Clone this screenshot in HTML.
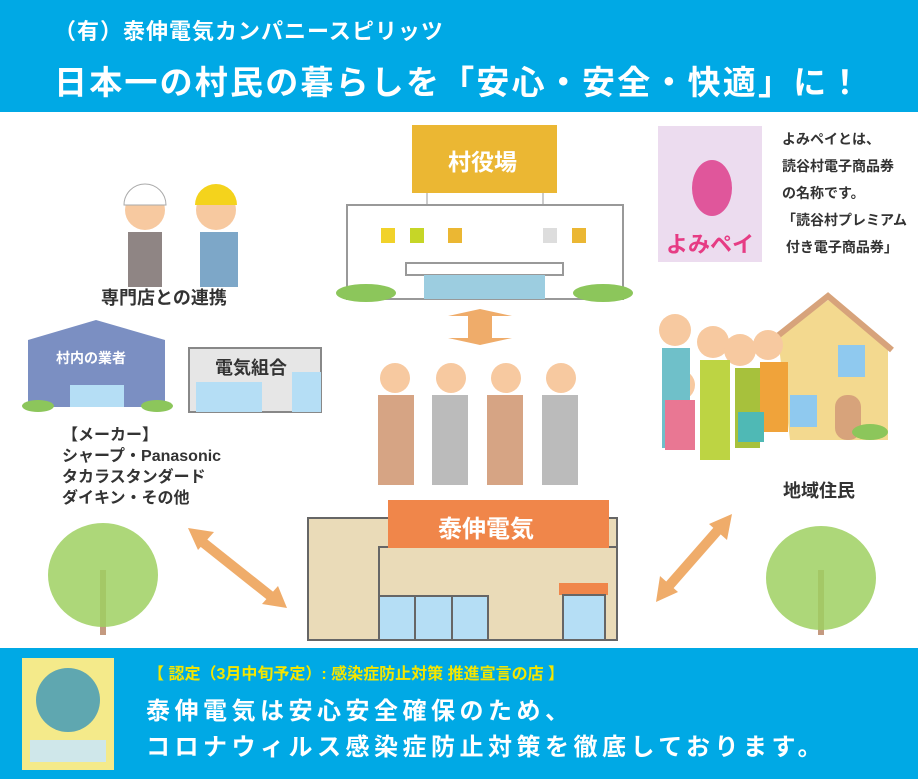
<!DOCTYPE html>
<html><head><meta charset="utf-8"><style>
*{margin:0;padding:0}
body{width:918px;height:779px;position:relative;overflow:hidden;background:#fff;font-family:"Liberation Sans","Noto Sans CJK JP",sans-serif;font-weight:bold}
.t{position:absolute;white-space:nowrap}
svg{position:absolute;left:0;top:0}
</style></head><body>
<svg width="918" height="779">
<rect x="0" y="0" width="918" height="112" fill="#00a9e5"/>
<rect x="0" y="648" width="918" height="131" fill="#00a9e5"/>
<line x1="427" y1="193" x2="427" y2="205" stroke="#999"/><line x1="543" y1="193" x2="543" y2="205" stroke="#999"/>
<rect x="347" y="205" width="276" height="94" fill="#fff" stroke="#999" stroke-width="2"/>
<rect x="412" y="125" width="145" height="68" fill="#ebb733"/>
<rect x="381" y="228" width="14" height="15" fill="#f1d22a"/><rect x="410" y="228" width="14" height="15" fill="#c6d627"/><rect x="448" y="228" width="14" height="15" fill="#ebb733"/><rect x="543" y="228" width="14" height="15" fill="#ddd"/><rect x="572" y="228" width="14" height="15" fill="#ebb733"/>
<rect x="406" y="263" width="157" height="12" fill="#fff" stroke="#999" stroke-width="2"/>
<rect x="424" y="275" width="121" height="24" fill="#9ccde0"/>
<ellipse cx="366" cy="293" rx="30" ry="9" fill="#8cc65b"/><ellipse cx="603" cy="293" rx="30" ry="9" fill="#8cc65b"/>
<path d="M480 309 L512 316 L492 316 L492 338 L512 338 L480 345 L448 338 L468 338 L468 316 L448 316Z" fill="#efac6a"/>
<rect x="658" y="126" width="104" height="136" fill="#ecdcef"/>
<ellipse cx="712" cy="188" rx="20" ry="28" fill="#e0569b"/>
<text x="666" y="252" font-size="22" fill="#e63c84" font-weight="bold" font-family="Liberation Sans,Noto Sans CJK JP,sans-serif">よみペイ</text>
<circle cx="145" cy="210" r="20" fill="#f7c9a0"/><path d="M124 205 a21 21 0 0 1 42 0z" fill="#fff" stroke="#aaa"/>
<rect x="128" y="232" width="34" height="55" fill="#8f8584"/>
<circle cx="216" cy="210" r="20" fill="#f7c9a0"/><path d="M195 205 a21 21 0 0 1 42 0z" fill="#f4d31c"/>
<rect x="200" y="232" width="38" height="55" fill="#7da7c8"/>
<path d="M28 340 L96 320 L165 340 L165 407 L28 407Z" fill="#7b8fc2"/>
<rect x="70" y="385" width="54" height="22" fill="#b5def5"/>
<ellipse cx="38" cy="406" rx="16" ry="6" fill="#8cc65b"/><ellipse cx="157" cy="406" rx="16" ry="6" fill="#8cc65b"/>
<rect x="189" y="348" width="132" height="64" fill="#e6e6e6" stroke="#888" stroke-width="2"/>
<rect x="196" y="382" width="66" height="30" fill="#b5def5"/><rect x="292" y="372" width="29" height="40" fill="#b5def5"/>
<g fill="#d6a484"><rect x="378" y="395" width="36" height="90"/><rect x="487" y="395" width="36" height="90"/></g>
<g fill="#bbb"><rect x="432" y="395" width="36" height="90"/><rect x="542" y="395" width="36" height="90"/></g>
<g fill="#f7c9a0"><circle cx="395" cy="378" r="15"/><circle cx="451" cy="378" r="15"/><circle cx="506" cy="378" r="15"/><circle cx="561" cy="378" r="15"/></g>
<path d="M778 338 L828 300 L888 345 L888 440 L790 440Z" fill="#f3d98f"/>
<path d="M770 342 L828 296 L892 350" fill="none" stroke="#d7a37b" stroke-width="6"/>
<rect x="838" y="345" width="27" height="32" fill="#8fc9ef"/><rect x="790" y="395" width="27" height="32" fill="#8fc9ef"/>
<rect x="835" y="395" width="26" height="45" rx="12" fill="#d7a37b"/>
<ellipse cx="870" cy="432" rx="18" ry="8" fill="#8cc65b"/>
<g fill="#f7c9a0"><circle cx="675" cy="330" r="16"/><circle cx="713" cy="342" r="16"/><circle cx="740" cy="350" r="16"/><circle cx="768" cy="345" r="15"/><circle cx="680" cy="385" r="15"/><circle cx="750" cy="400" r="14"/></g>
<rect x="662" y="348" width="28" height="100" fill="#6fc0c9"/><rect x="700" y="360" width="30" height="100" fill="#bdd443"/>
<rect x="735" y="368" width="25" height="80" fill="#a7c13c"/><rect x="760" y="362" width="28" height="70" fill="#f0a33a"/>
<rect x="665" y="400" width="30" height="50" fill="#e97793"/><rect x="738" y="412" width="26" height="30" fill="#4fb9b5"/>
<rect x="308" y="518" width="309" height="122" fill="#eadbb8" stroke="#666" stroke-width="2"/>
<rect x="379" y="547" width="238" height="93" fill="#eadbb8" stroke="#666" stroke-width="2"/>
<rect x="388" y="500" width="221" height="48" fill="#f0864a"/>
<rect x="379" y="596" width="109" height="44" fill="#b5def5" stroke="#666" stroke-width="2"/>
<line x1="415" y1="596" x2="415" y2="640" stroke="#666" stroke-width="2"/><line x1="452" y1="596" x2="452" y2="640" stroke="#666" stroke-width="2"/>
<rect x="559" y="583" width="49" height="12" fill="#f0864a"/>
<rect x="563" y="595" width="42" height="45" fill="#b5def5" stroke="#666" stroke-width="2"/>
<g stroke="#efac6a" stroke-width="10" fill="none"><line x1="200" y1="540" x2="273" y2="598"/><line x1="718" y1="530" x2="668" y2="587"/></g>
<path d="M188 528 L214 532 L198 550Z M287 608 L262 604 L278 586Z" fill="#efac6a"/>
<path d="M732 514 L727 540 L709 524Z M656 602 L660 576 L678 592Z" fill="#efac6a"/>
<rect x="100" y="570" width="6" height="65" fill="#c49a80"/><ellipse cx="103" cy="575" rx="55" ry="52" fill="#9fd061" opacity=".85"/>
<rect x="818" y="570" width="6" height="65" fill="#c49a80"/><ellipse cx="821" cy="578" rx="55" ry="52" fill="#9fd061" opacity=".85"/>
<rect x="22" y="658" width="92" height="112" fill="#f4ea8a"/><circle cx="68" cy="700" r="32" fill="#5fa7b0"/><rect x="30" y="740" width="76" height="22" fill="#cfe7ea"/>
</svg>
<div class="t" style="left:54px;top:14px;font-size:22px;color:#fff;letter-spacing:1px">（有）泰伸電気カンパニースピリッツ</div>
<div class="t" style="left:54px;top:56px;font-size:33px;color:#fff;letter-spacing:2.2px">日本一の村民の暮らしを「安心・安全・快適」に！</div>
<div class="t" style="left:448px;top:143px;font-size:23px;color:#fff">村役場</div>
<div class="t" style="left:782px;top:126px;font-size:14px;line-height:27px;color:#333">よみペイとは、<br>読谷村電子商品券<br>の名称です。<br>「読谷村プレミアム<br>&nbsp;付き電子商品券」</div>
<div class="t" style="left:101px;top:284px;font-size:18px;color:#333">専門店との連携</div>
<div class="t" style="left:56px;top:348px;font-size:14px;color:#fff">村内の業者</div>
<div class="t" style="left:215px;top:354px;font-size:18px;color:#333">電気組合</div>
<div class="t" style="left:62px;top:425px;font-size:16px;line-height:21px;color:#333">【メーカー】<br>シャープ・Panasonic<br>タカラスタンダード<br>ダイキン・その他</div>
<div class="t" style="left:783px;top:477px;font-size:18px;color:#333">地域住民</div>
<div class="t" style="left:438px;top:509px;font-size:24px;color:#fff">泰伸電気</div>
<div class="t" style="left:148px;top:660px;font-size:16px;color:#f5e600">【 認定（3月中旬予定）: 感染症防止対策 推進宣言の店 】</div>
<div class="t" style="left:146px;top:694px;font-size:24px;line-height:36px;color:#fff;letter-spacing:4.5px">泰伸電気は安心安全確保のため、<br>コロナウィルス感染症防止対策を徹底しております。</div>
</body></html>
